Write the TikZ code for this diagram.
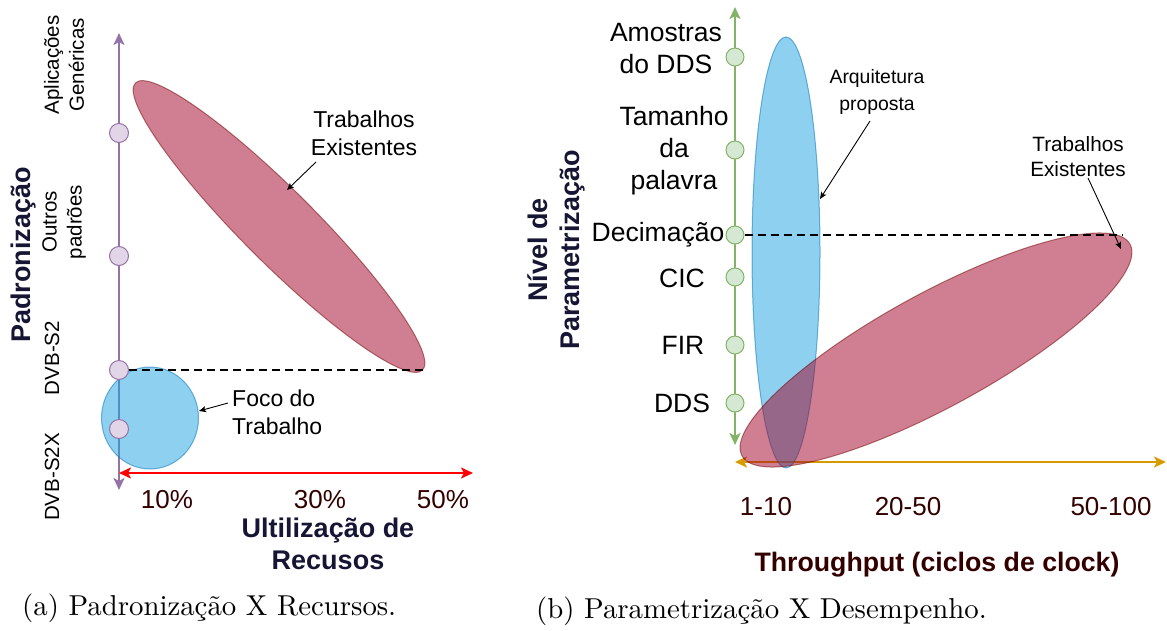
\documentclass[tikz,border=0pt]{standalone}
\usepackage{fontspec}
\newfontfamily\arial{Liberation Sans}
\newfontfamily\lmten[Extension=.otf]{lmroman10-regular}
\usetikzlibrary{arrows.meta,shapes.geometric}
\definecolor{cpurple}{HTML}{9673A6}
\definecolor{cpurpleL}{HTML}{E1D5E7}
\definecolor{cgreen}{HTML}{82B366}
\definecolor{cgreenL}{HTML}{D5E8D4}
\definecolor{corange}{HTML}{D79B00}
\definecolor{cred}{HTML}{FF0000}
\definecolor{cblue}{HTML}{1BA1E2}
\definecolor{cblueS}{HTML}{006EAF}
\definecolor{cwine}{HTML}{A20025}
\definecolor{cwineS}{HTML}{6F0000}
\definecolor{cnavy}{RGB}{22,22,52}
\definecolor{cbrownT}{RGB}{51,0,0}
\begin{document}
\begin{tikzpicture}[x=1pt,y=-1pt,
  bigtip/.style={line width=2.5pt,{Stealth[length=12pt,width=11pt,inset=3pt]}-{Stealth[length=12pt,width=11pt,inset=3pt]}},
  note/.style={line width=0.9pt,-{Stealth[length=7pt,width=6pt,inset=1.5pt]}},
  dashln/.style={line width=2.2pt,dash pattern=on 8pt off 5pt},
  dotP/.style={circle,draw=cpurple,fill=cpurpleL,minimum size=19pt,inner sep=0pt,line width=1pt},
  dotG/.style={circle,draw=cgreen,fill=cgreenL,minimum size=18pt,inner sep=0pt,line width=1pt},
  blueE/.style={ellipse,fill=cblue,draw=cblueS,fill opacity=0.5,draw opacity=0.5,line width=1pt,inner sep=0pt},
  redE/.style={ellipse,fill=cwine,draw=cwineS,fill opacity=0.5,draw opacity=0.5,line width=1pt,inner sep=0pt},
  txt/.style={inner sep=0pt,align=center,font=\arial\fontsize{23}{28}\selectfont},
  txtS/.style={inner sep=0pt,align=center,font=\arial\fontsize{20.5}{25}\selectfont},
  txtM/.style={inner sep=0pt,align=center,font=\arial\fontsize{26.5}{32}\selectfont},
  tick/.style={inner sep=0pt,text=cbrownT,font=\arial\fontsize{26}{30}\selectfont},
  ttl/.style={inner sep=0pt,align=center,font=\arial\bfseries\fontsize{27}{32}\selectfont},
  captxt/.style={inner sep=0pt,font=\lmten\fontsize{28.8}{34}\selectfont}
]
\useasboundingbox (0,0) rectangle (1167,630);

%% ---------------- panel (a) ----------------
\coordinate (pTop) at (119,33);
\coordinate (pBot) at (119,490);
\draw[bigtip,cpurple] (pBot) -- (pTop);
\coordinate (rL) at (119,473);
\coordinate (rR) at (473,473);
\draw[bigtip,cred,line width=2.8pt] (rL) -- (rR);

\node[blueE,minimum width=97pt,minimum height=102pt] (foco) at (150,418) {};
\node[redE,minimum width=406pt,minimum height=73pt,rotate=-45] (trabA) at (279,226.5) {};

\node[dotP] (p1) at (119,133) {};
\node[dotP] (p2) at (119,256) {};
\node[dotP] (p3) at (119,370) {};
\node[dotP] (p4) at (119,429) {};

\coordinate (dA) at (423,370);
\draw[dashln] (p3.east) -- (dA);

\node[txtS,rotate=90] (lApl) at (64,65) {Aplicações\\Genéricas};
\node[txtS,rotate=90] (lOut) at (64,222) {Outros\\padrões};
\node[txtS,rotate=90] (lS2) at (52,358) {DVB-S2};
\node[txtS,rotate=90] (lS2X) at (52,477) {DVB-S2X};
\node[ttl,rotate=90,text=cnavy] (tPad) at (24,255) {Padronização};

\node[txt] (lTrabA) at (364,133) {Trabalhos\\Existentes};
\coordinate (aA1) at (316,162);
\coordinate (aA2) at (287,190);
\draw[note] (aA1) -- (aA2);

\node[txt,anchor=west,align=left] (lFoco) at (232,412) {Foco do\\Trabalho};
\coordinate (aF1) at (228,403);
\coordinate (aF2) at (199,411);
\draw[note] (aF1) -- (aF2);

\node[tick] (t10) at (167,500) {10\%};
\node[tick] (t30) at (320,500) {30\%};
\node[tick] (t50) at (443,500) {50\%};
\node[ttl,text=cnavy] (tUti) at (328,544) {Ultilização de\\Recusos};

\node[captxt,anchor=base west] (capA) at (22,615) {(a) Padronização X Recursos.};

%% ---------------- panel (b) ----------------
\coordinate (gTop) at (735,7);
\coordinate (gBot) at (735,445);
\draw[bigtip,cgreen] (gBot) -- (gTop);
\coordinate (oL) at (735,462);
\coordinate (oR) at (1166,462);
\draw[bigtip,corange,line width=2.8pt] (oL) -- (oR);

\node[blueE,minimum width=68pt,minimum height=431pt] (arq) at (786,252.5) {};
\node[redE,minimum width=442pt,minimum height=114pt,rotate=28.6] (trabB) at (936,350) {};

\node[dotG] (g1) at (735,57) {};
\node[dotG] (g2) at (735,150) {};
\node[dotG] (g3) at (735,235) {};
\node[dotG] (g4) at (735,277) {};
\node[dotG] (g5) at (735,345) {};
\node[dotG] (g6) at (735,403) {};

\coordinate (dB) at (1122,235);
\draw[dashln] (g3.east) -- (dB);

\node[txtM] (lAmo) at (666,49) {Amostras\\do DDS};
\node[txtM] (lTam) at (674,151) {Tamanho\\da\\palavra};
\node[txtM] (lDec) at (658,235) {Decimação};
\node[txtM] (lCIC) at (682,278) {CIC};
\node[txtM] (lFIR) at (683,345) {FIR};
\node[txtM] (lDDS) at (682,403) {DDS};

\node[ttl,rotate=90,text=cnavy] (tNiv) at (556,250) {Nível de\\Parametrização};

\node[inner sep=0pt,align=center,font=\arial\fontsize{19.4}{27}\selectfont] (lArq) at (877,92) {Arquitetura\\proposta};
\coordinate (aB1) at (870,121);
\coordinate (aB2) at (820,199);
\draw[note] (aB1) -- (aB2);

\node[inner sep=0pt,align=center,font=\arial\fontsize{20.7}{25}\selectfont] (lTrabB) at (1078,157) {Trabalhos\\Existentes};
\coordinate (aC1) at (1088,178);
\coordinate (aC2) at (1121,249);
\draw[note] (aC1) -- (aC2);

\node[tick] (t1) at (766,507) {1-10};
\node[tick] (t2) at (908,507) {20-50};
\node[tick] (t3) at (1111,507) {50-100};
\node[ttl,text=cbrownT,font=\arial\bfseries\fontsize{26.7}{32}\selectfont] (tThr) at (937,565) {Throughput (ciclos de clock)};

\node[captxt,anchor=base west] (capB) at (536,618) {(b) Parametrização X Desempenho.};
\end{tikzpicture}
\end{document}
